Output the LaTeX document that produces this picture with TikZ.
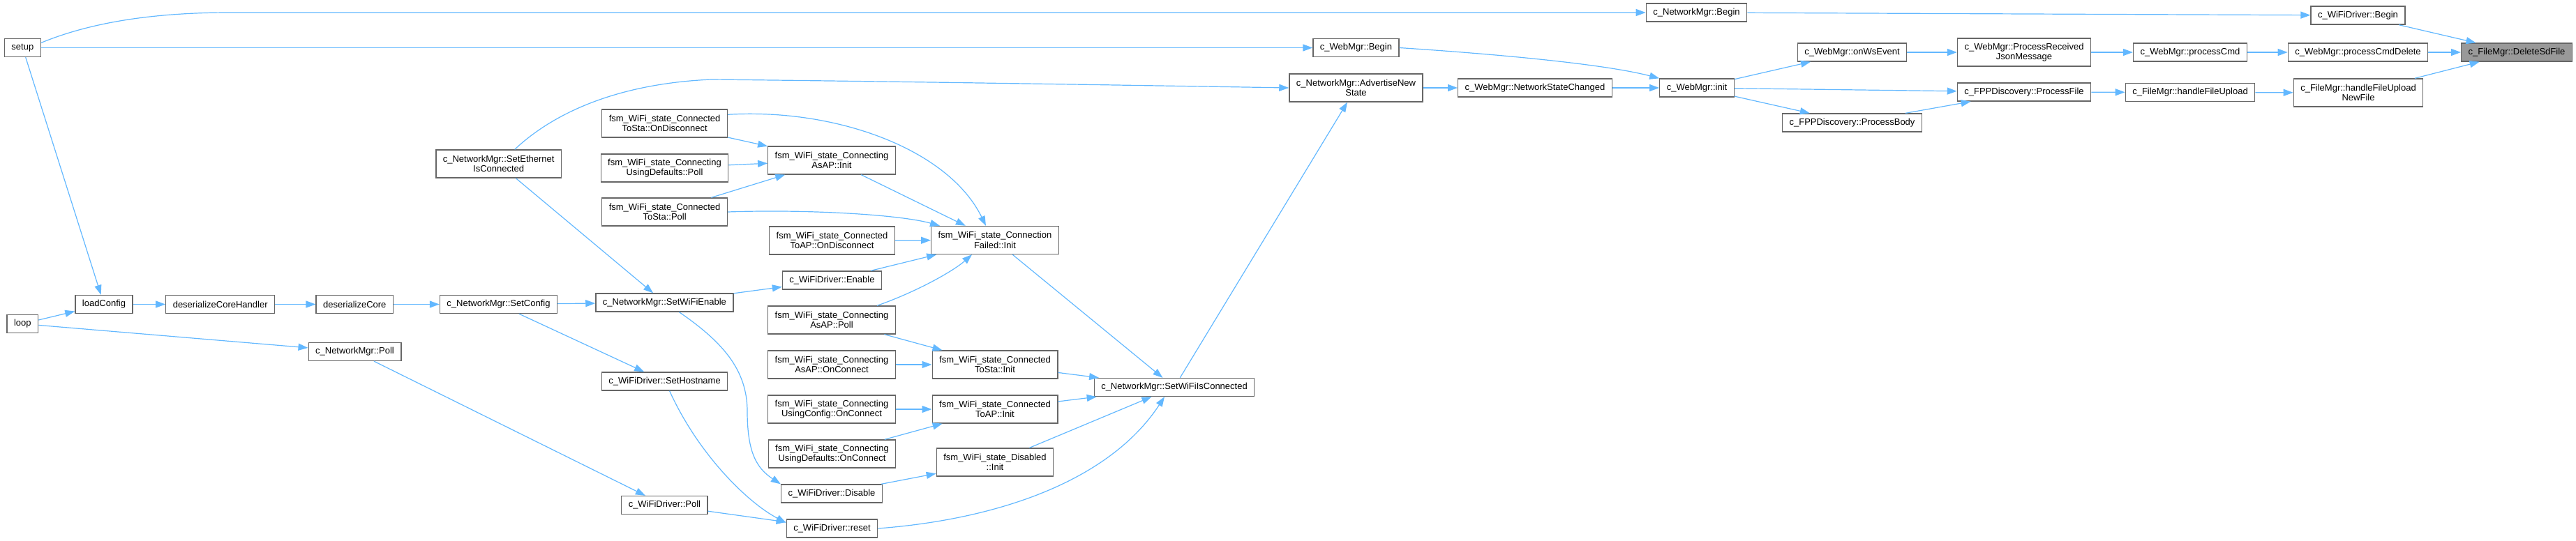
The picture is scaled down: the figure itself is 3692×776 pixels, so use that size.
\documentclass[tikz,border=0pt]{standalone}
\usepackage{fontspec}
\setmainfont{Liberation Sans}
\usetikzlibrary{arrows.meta}
\definecolor{edgeblue}{HTML}{63B8FF}
\definecolor{boxgray}{HTML}{666666}
\definecolor{hlgray}{HTML}{999999}
\tikzset{
  fn/.style={draw=boxgray, line width=1.3pt, fill=white, inner xsep=10pt, inner ysep=5pt,
    minimum height=26pt, align=center, font=\fontsize{13}{14.5}\selectfont},
  fntwo/.style={fn, minimum height=40pt},
  fnhl/.style={fn, fill=hlgray},
  call/.style={edgeblue, line width=1.2pt, -{Triangle[length=14pt,width=10pt]}},
}
\begin{document}
\begin{tikzpicture}[x=1pt, y=-1pt]
\useasboundingbox (0,0) rectangle (3692,776);
% Entry points
\node[fn] (setup) at (32.4,68.5) {setup};
\node[fn] (loop) at (32.4,464.5) {loop};
% Config chain
\node[fn] (loadConfig) at (149,436.5) {loadConfig};
\node[fn] (desHandler) at (315.7,436.5) {deserializeCoreHandler};
\node[fn] (desCore) at (508.3,436.5) {deserializeCore};
\node[fn] (nmPoll) at (508.5,504.5) {c\_NetworkMgr::Poll};
\node[fn] (nmSetConfig) at (714.5,436.5) {c\_NetworkMgr::SetConfig};
\node[fntwo] (nmSetEth) at (714.7,235) {c\_NetworkMgr::SetEthernet\\IsConnected};
\node[fn] (nmSetWifiEn) at (952.4,434) {c\_NetworkMgr::SetWiFiEnable};
\node[fn] (wdSetHost) at (952.6,547) {c\_WiFiDriver::SetHostname};
\node[fn] (wdPoll) at (952.4,724.5) {c\_WiFiDriver::Poll};
% WiFi state machine, first column
\node[fntwo] (stOnDisc) at (952.6,177) {fsm\_WiFi\_state\_Connected\\ToSta::OnDisconnect};
\node[fntwo] (stDefPoll) at (952.5,241) {fsm\_WiFi\_state\_Connecting\\UsingDefaults::Poll};
\node[fntwo] (stStaPoll) at (952.6,304) {fsm\_WiFi\_state\_Connected\\ToSta::Poll};
% WiFi state machine, second column
\node[fntwo] (stApInit) at (1192,230) {fsm\_WiFi\_state\_Connecting\\AsAP::Init};
\node[fntwo] (stApOnDisc) at (1192.5,345) {fsm\_WiFi\_state\_Connected\\ToAP::OnDisconnect};
\node[fn] (wdEnable) at (1192.5,402) {c\_WiFiDriver::Enable};
\node[fntwo] (stApPoll) at (1192,459) {fsm\_WiFi\_state\_Connecting\\AsAP::Poll};
\node[fntwo] (stApOnConn) at (1192,523) {fsm\_WiFi\_state\_Connecting\\AsAP::OnConnect};
\node[fntwo] (stCfgOnConn) at (1192,587) {fsm\_WiFi\_state\_Connecting\\UsingConfig::OnConnect};
\node[fntwo] (stDefOnConn) at (1192.5,651) {fsm\_WiFi\_state\_Connecting\\UsingDefaults::OnConnect};
\node[fn] (wdDisable) at (1192,708) {c\_WiFiDriver::Disable};
\node[fn] (wdReset) at (1192.5,758) {c\_WiFiDriver::reset};
% WiFi state machine, third column
\node[fntwo] (stFailed) at (1426,344.5) {fsm\_WiFi\_state\_Connection\\Failed::Init};
\node[fntwo] (stStaInit) at (1426,523) {fsm\_WiFi\_state\_Connected\\ToSta::Init};
\node[fntwo] (stToApInit) at (1426,587) {fsm\_WiFi\_state\_Connected\\ToAP::Init};
\node[fntwo] (stDisInit) at (1426,663) {fsm\_WiFi\_state\_Disabled\\::Init};
\node[fn] (nmSetWifiConn) at (1683,555.5) {c\_NetworkMgr::SetWiFiIsConnected};
% Web manager side
\node[fntwo] (nmAdvertise) at (1943.5,126) {c\_NetworkMgr::AdvertiseNew\\State};
\node[fn] (wmBegin) at (1943.5,68.5) {c\_WebMgr::Begin};
\node[fn] (wmNetChanged) at (2200,126) {c\_WebMgr::NetworkStateChanged};
\node[fn] (nmBegin) at (2431.5,18) {c\_NetworkMgr::Begin};
\node[fn] (wmInit) at (2432,126) {c\_WebMgr::init};
\node[fn] (wmOnWs) at (2654.5,75) {c\_WebMgr::onWsEvent};
\node[fn] (fppBody) at (2654.5,176) {c\_FPPDiscovery::ProcessBody};
\node[fntwo] (wmProcJson) at (2901,75) {c\_WebMgr::ProcessReceived\\JsonMessage};
\node[fn] (fppFile) at (2901,132) {c\_FPPDiscovery::ProcessFile};
\node[fn] (wmCmd) at (3139,75) {c\_WebMgr::processCmd};
\node[fn] (fmUpload) at (3139,132.5) {c\_FileMgr::handleFileUpload};
\node[fn] (wdBegin) at (3379.5,22) {c\_WiFiDriver::Begin};
\node[fn] (wmCmdDel) at (3379.5,75) {c\_WebMgr::processCmdDelete};
\node[fntwo] (fmUploadNew) at (3380,133) {c\_FileMgr::handleFileUpload\\NewFile};
\node[fnhl] (fmDelete) at (3607,75) {c\_FileMgr::DeleteSdFile};
% Calls from setup and loop
\draw[call] (setup.15) .. controls (130,32) and (220,18) .. (330,18) -- (nmBegin);
\draw[call] (setup) -- (wmBegin);
\draw[call] (setup) -- (loadConfig);
\draw[call] (loop) -- (loadConfig);
\draw[call] (loop) -- (nmPoll);
\draw[call] (loadConfig) -- (desHandler);
\draw[call] (desHandler) -- (desCore);
\draw[call] (desCore) -- (nmSetConfig);
\draw[call] (nmSetConfig) -- (nmSetWifiEn);
\draw[call] (nmSetConfig) -- (wdSetHost);
\draw[call] (nmPoll) -- (wdPoll);
% Network manager
\draw[call] ([xshift=23pt]nmSetEth.north) .. controls (790,165) and (880,120) .. (1020,114)
  .. controls (1300,117) and (1600,122) .. (nmAdvertise.west);
\draw[call] (nmSetEth) -- (nmSetWifiEn);
\draw[call] (nmSetWifiEn) -- (wdEnable);
\draw[call] ([xshift=21pt]nmSetWifiEn.south) .. controls (1035,490) and (1071,530) .. (1071,590)
  .. controls (1071,650) and (1085,672) .. (wdDisable.north west);
\draw[call] ([xshift=7pt]wdSetHost.south) .. controls (1000,650) and (1070,720) .. (wdReset.173);
\draw[call] (wdPoll) -- (wdReset);
% State machine
\draw[call] (stOnDisc) -- (stApInit);
\draw[call] (stOnDisc.8) .. controls (1200,155) and (1360,215) .. ([xshift=-13pt]stFailed.north);
\draw[call] (stDefPoll) -- (stApInit);
\draw[call] (stStaPoll) -- (stApInit);
\draw[call] (stStaPoll.east) .. controls (1160,300) and (1290,308) .. ([xshift=13pt]stFailed.north west);
\draw[call] (stApInit) -- (stFailed);
\draw[call] (stApOnDisc) -- (stFailed);
\draw[call] (wdEnable) -- (stFailed);
\draw[call] ([xshift=65pt]stApPoll.north) .. controls (1310,420) and (1365,390) .. ([xshift=-33pt]stFailed.south);
\draw[call] (stApPoll) -- (stStaInit);
\draw[call] (stApOnConn) -- (stStaInit);
\draw[call] (stCfgOnConn) -- (stToApInit);
\draw[call] (stDefOnConn) -- (stToApInit);
\draw[call] (wdDisable) -- (stDisInit);
\draw[call] (stFailed) -- (nmSetWifiConn);
\draw[call] (stStaInit) -- (nmSetWifiConn);
\draw[call] (stToApInit) -- (nmSetWifiConn);
\draw[call] (stDisInit) -- (nmSetWifiConn);
\draw[call] (wdReset.east) .. controls (1430,745) and (1590,690) .. ([xshift=-14pt]nmSetWifiConn.south);
\draw[call] (nmSetWifiConn) -- (nmAdvertise);
% Web manager and file manager
\draw[call] (nmAdvertise) -- (wmNetChanged);
\draw[call] (wmNetChanged) -- (wmInit);
\draw[call] (wmBegin.east) .. controls (2150,78) and (2300,92) .. (wmInit.north west);
\draw[call] (wmInit) -- (wmOnWs);
\draw[call] (wmInit) -- (fppFile);
\draw[call] (wmInit) -- (fppBody);
\draw[call] (fppBody) -- (fppFile);
\draw[call] (wmOnWs) -- (wmProcJson);
\draw[call] (wmProcJson) -- (wmCmd);
\draw[call] (fppFile) -- (fmUpload);
\draw[call] (wmCmd) -- (wmCmdDel);
\draw[call] (fmUpload) -- (fmUploadNew);
\draw[call] (nmBegin) -- (wdBegin);
\draw[call] (wdBegin) -- (fmDelete);
\draw[call] (wmCmdDel) -- (fmDelete);
\draw[call] (fmUploadNew) -- (fmDelete);
\end{tikzpicture}
\end{document}
